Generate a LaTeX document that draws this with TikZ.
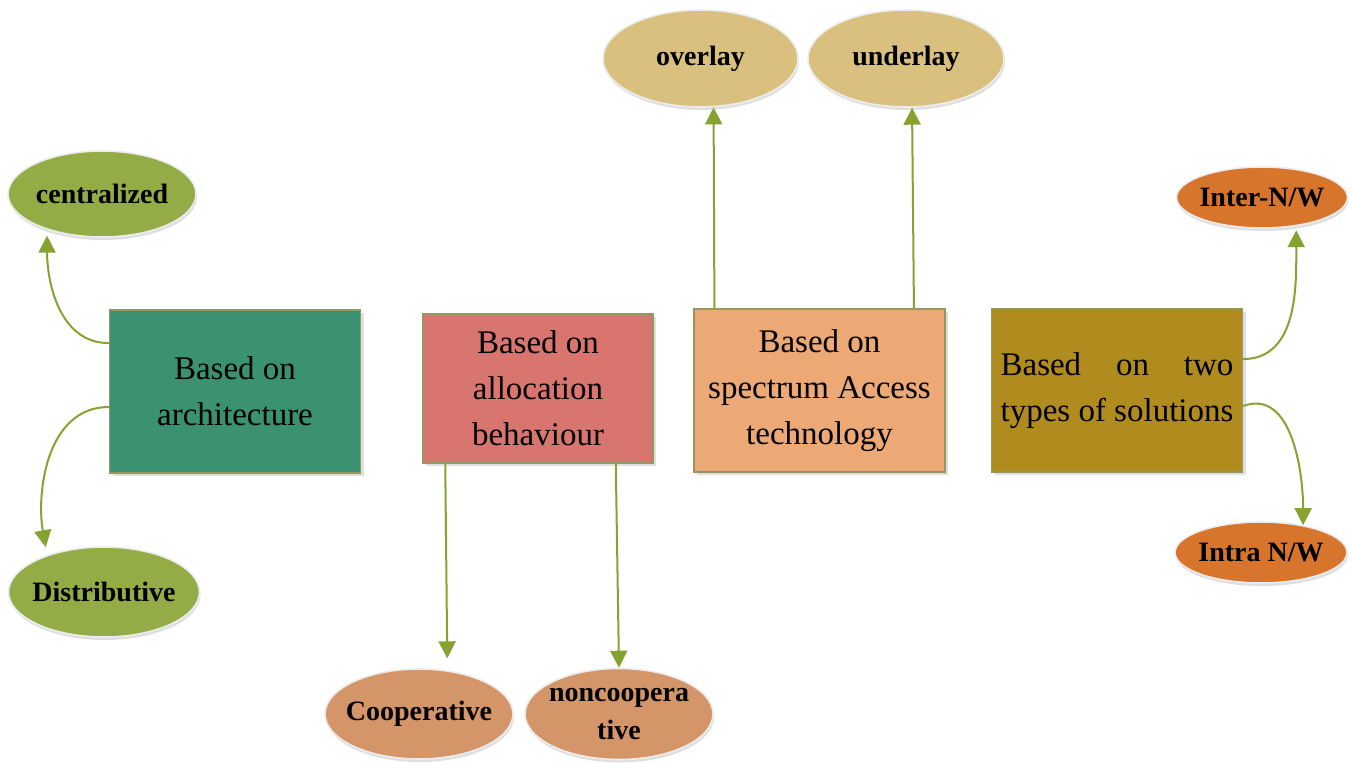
\documentclass[tikz,border=0pt]{standalone}
\usepackage{fontspec}
\setmainfont{Liberation Serif}
\usetikzlibrary{shapes.geometric,arrows.meta,shadows}

\definecolor{archgreen}{RGB}{58,146,112}
\definecolor{allocred}{RGB}{217,117,111}
\definecolor{accessorange}{RGB}{236,168,117}
\definecolor{solgold}{RGB}{176,139,30}
\definecolor{leafgreen}{RGB}{148,172,70}
\definecolor{leafbrown}{RGB}{212,150,104}
\definecolor{leaftan}{RGB}{217,192,126}
\definecolor{leaforange}{RGB}{216,117,44}
\definecolor{arrowgreen}{RGB}{136,162,50}
\definecolor{boxline}{RGB}{150,150,100}

\tikzset{
  box/.style={rectangle, draw=boxline, line width=0.6pt, align=center, inner sep=2pt,
    font=\fontsize{16.5}{23}\selectfont,
    drop shadow={shadow xshift=1.5pt, shadow yshift=-1.5pt, opacity=0.25}},
  leaf/.style={ellipse, draw=white!85!gray, line width=0.8pt, inner xsep=-15pt, inner ysep=-8pt, align=center,
    font=\fontsize{14}{19}\selectfont\bfseries,
    drop shadow={shadow xshift=0.5pt, shadow yshift=-1.5pt, opacity=0.25}},
  arr/.style={-{Triangle[length=8.5pt,width=8.5pt]}, color=arrowgreen, line width=1pt},
}

\begin{document}
\begin{tikzpicture}[x=0.5pt,y=-0.5pt]
\useasboundingbox (0,0) rectangle (1351,762);

% the four groups
\node[box,fill=archgreen,minimum width=125.5pt,minimum height=81.5pt]	(arch)	at (235,391.5)	{Based on\\architecture};
\node[box,fill=allocred,minimum width=115pt,minimum height=74.5pt]	(alloc)	at (538,388.5)	{Based on\\allocation\\behaviour};
\node[box,fill=accessorange,minimum width=125.5pt,minimum height=81.5pt]	(access)	at (819.5,390.5)	{Based on\\spectrum Access\\technology};
\node[box,fill=solgold,minimum width=125.5pt,minimum height=81.5pt,align=left]	(sol)	at (1117,390.5)
	{\setbox0\hbox{types of solutions}\makebox[\wd0][s]{Based on two}\\types of solutions};

% leaves
\node[leaf,fill=leafgreen,minimum width=94pt,minimum height=43pt]	(central)	at (102,194)	{centralized};
\node[leaf,fill=leafgreen,minimum width=95.5pt,minimum height=45pt]	(distr)	at (104,592)	{Distributive};
\node[leaf,fill=leafbrown,minimum width=94pt,minimum height=45pt]	(coop)	at (419,714)	{Cooperative};
\node[leaf,fill=leafbrown,minimum width=94pt,minimum height=45.5pt]	(noncoop)	at (619,714)	{noncoopera\\tive};
\node[leaf,fill=leaftan,minimum width=97.5pt,minimum height=48.5pt]	(over)	at (700.5,58.5)	{overlay};
\node[leaf,fill=leaftan,minimum width=98pt,minimum height=48.5pt]	(under)	at (906,58.5)	{underlay};
\node[leaf,fill=leaforange,minimum width=85.5pt,minimum height=30.5pt]	(inter)	at (1262,197.5)	{Inter-N/W};
\node[leaf,fill=leaforange,minimum width=86pt,minimum height=30.5pt]	(intra)	at (1261,552.5)	{Intra N/W};

\path[arr]	(arch.159)	edge [out=180,in=-90,shorten >=3pt]	(central.213)
		(arch.187.5)	edge [out=180,in=100,shorten >=4pt]	(distr.147)
		(alloc.219.5)	edge [shorten >=6pt]	(coop.57.5)
		(alloc.-44.6)	edge	(noncoop.north)
		(access.142.6)	edge	(over.-75.4)
		(access.41.4)	edge	(under.-83)
		(sol.14)	edge [out=0,in=-90,shorten >=2pt]	(inter.-40)
		(sol.-7)	edge [out=20,in=90]	(intra.33);
\end{tikzpicture}
\end{document}
